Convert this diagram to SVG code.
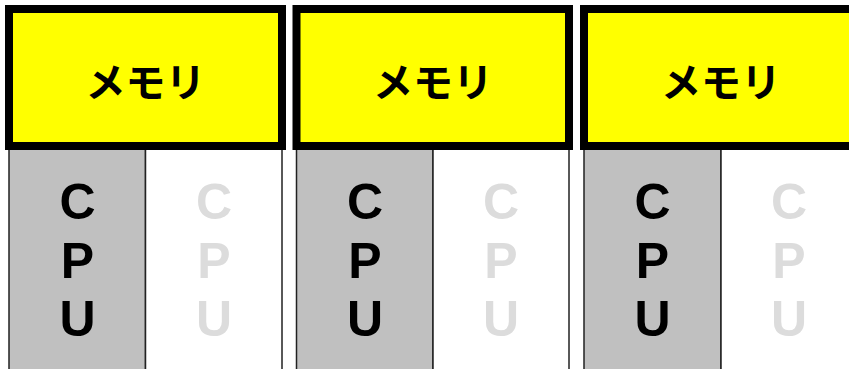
<svg xmlns="http://www.w3.org/2000/svg" width="849" height="369" viewBox="0 0 849 369">
<style>
.mem{fill:#ffff00;stroke:#000;stroke-width:8}
.cpu{stroke:#222;stroke-width:1.5}
.on{fill:#c0c0c0}
.off{fill:#fff}
.mt{font-family:"Noto Sans CJK JP","Noto Sans",sans-serif;font-weight:bold;font-size:40px;fill:#000;text-anchor:middle}
.ct{font-family:"Liberation Sans",Arial,sans-serif;font-weight:bold;font-size:50px;text-anchor:middle}
.ctOn{fill:#000}
.ctOff{fill:#dcdcdc}
</style>
<rect width="849" height="369" fill="#fff"/>
<g id="panel1">
<rect class="cpu on" x="9" y="146" width="136.5" height="240"/>
<rect class="cpu off" x="145.5" y="146" width="136.5" height="240"/>
<rect class="mem" x="9" y="9" width="273" height="137"/>
<text class="mt" x="145.5" y="97">メモリ</text>
<text class="ct ctOn" x="77.5" y="219">C</text><text class="ct ctOn" x="77.5" y="277.5">P</text><text class="ct ctOn" x="77.5" y="336">U</text>
<text class="ct ctOff" x="214" y="219">C</text><text class="ct ctOff" x="214" y="277.5">P</text><text class="ct ctOff" x="214" y="336">U</text>
</g>
<g id="panel2">
<rect class="cpu on" x="296.5" y="146" width="136.5" height="240"/>
<rect class="cpu off" x="433" y="146" width="136" height="240"/>
<rect class="mem" x="296.5" y="9" width="272.5" height="137"/>
<text class="mt" x="433" y="97">メモリ</text>
<text class="ct ctOn" x="365" y="219">C</text><text class="ct ctOn" x="365" y="277.5">P</text><text class="ct ctOn" x="365" y="336">U</text>
<text class="ct ctOff" x="501" y="219">C</text><text class="ct ctOff" x="501" y="277.5">P</text><text class="ct ctOff" x="501" y="336">U</text>
</g>
<g id="panel3">
<rect class="cpu on" x="584" y="146" width="137" height="240"/>
<rect class="cpu off" x="721" y="146" width="137" height="240"/>
<rect class="mem" x="584" y="9" width="274" height="137"/>
<text class="mt" x="721" y="97">メモリ</text>
<text class="ct ctOn" x="652.5" y="219">C</text><text class="ct ctOn" x="652.5" y="277.5">P</text><text class="ct ctOn" x="652.5" y="336">U</text>
<text class="ct ctOff" x="789" y="219">C</text><text class="ct ctOff" x="789" y="277.5">P</text><text class="ct ctOff" x="789" y="336">U</text>
</g>
<g id="connectors"/>
</svg>
